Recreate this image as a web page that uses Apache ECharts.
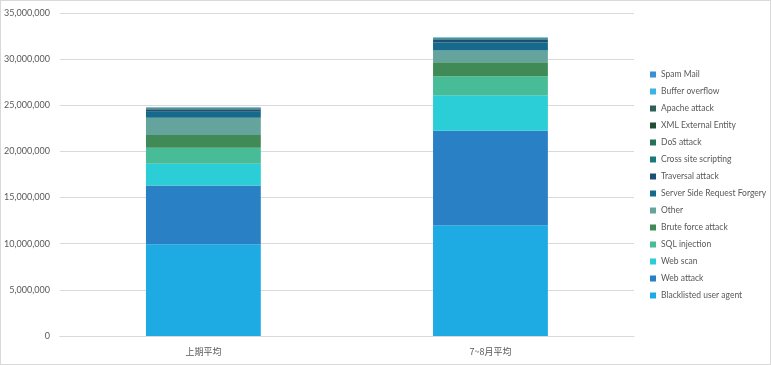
<!DOCTYPE html>
<html>
<head>
<meta charset="utf-8">
<script src="https://cdn.jsdelivr.net/npm/echarts@6/dist/echarts.min.js"></script>
<style>
html,body{margin:0;padding:0;background:#fff;}
#c{width:771px;height:365px;box-sizing:border-box;border:1px solid #d9d9d9;}
</style>
</head>
<body>
<div id="c"></div>
<script>
var categories = ['上期平均', '7~8月平均'];
var seriesNames = ['Blacklisted user agent','Web attack','Web scan','SQL injection','Brute force attack','Other','Server Side Request Forgery','Traversal attack','Cross site scripting','DoS attack','XML External Entity','Apache attack','Buffer overflow','Spam Mail'];
var blacklisted = [9950000, 12000000];
var webAttack = [6350000, 10230000];
var webScan = [2370000, 3870000];
var sqlInjection = [1720000, 2050000];
var bruteForce = [1400000, 1510000];
var other = [1860000, 1290000];
var ssrf = [650000, 850000];
var traversal = [220000, 300000];
var xss = [80000, 80000];
var dos = [60000, 50000];
var xml = [30000, 30000];
var apache = [30000, 20000];
var bufferOverflow = [40000, 60000];
var spamMail = [20000, 20000];
var seriesValues = [blacklisted, webAttack, webScan, sqlInjection, bruteForce, other, ssrf, traversal, xss, dos, xml, apache, bufferOverflow, spamMail];
var colors = ['#1eaae2','#2a80c5','#2bcdd6','#48bb97','#3f8a56','#64a49c','#15698a','#1b4e78','#1a7a7a','#27705a','#1f4f30','#2f5f5a','#3bb3e3','#3a8fd2'];

var chart = echarts.init(document.getElementById('c'));
chart.setOption({
  animation: false,
  grid: {left: 57, right: 136, top: 12, bottom: 28},
  legend: {
    orient: 'vertical', left: 644, top: 64,
    itemWidth: 6, itemHeight: 6, itemGap: 8,
    icon: 'rect',
    data: seriesNames.slice().reverse(),
    textStyle: {fontSize: 8.5, color: '#595959', fontFamily: 'Lato, "Noto Sans", sans-serif'}
  },
  xAxis: {
    type: 'category', data: categories,
    axisTick: {show: false},
    axisLine: {lineStyle: {color: '#d9d9d9'}},
    axisLabel: {fontSize: 9, color: '#595959', margin: 11, fontFamily: '"Noto Sans CJK JP", sans-serif'}
  },
  yAxis: {
    type: 'value', min: 0, max: 35000000, interval: 5000000,
    axisLine: {show: false}, axisTick: {show: false},
    splitLine: {lineStyle: {color: '#d9d9d9'}},
    axisLabel: {fontSize: 9, color: '#595959', margin: 10, fontFamily: 'Lato, "Noto Sans", sans-serif',
      formatter: function(v){ return v.toLocaleString('en-US'); }}
  },
  series: seriesNames.map(function(n, i){
    return {name: n, type: 'bar', stack: 'total', barWidth: '40%', data: seriesValues[i], itemStyle: {color: colors[i]}};
  })
});
</script>
</body>
</html>
